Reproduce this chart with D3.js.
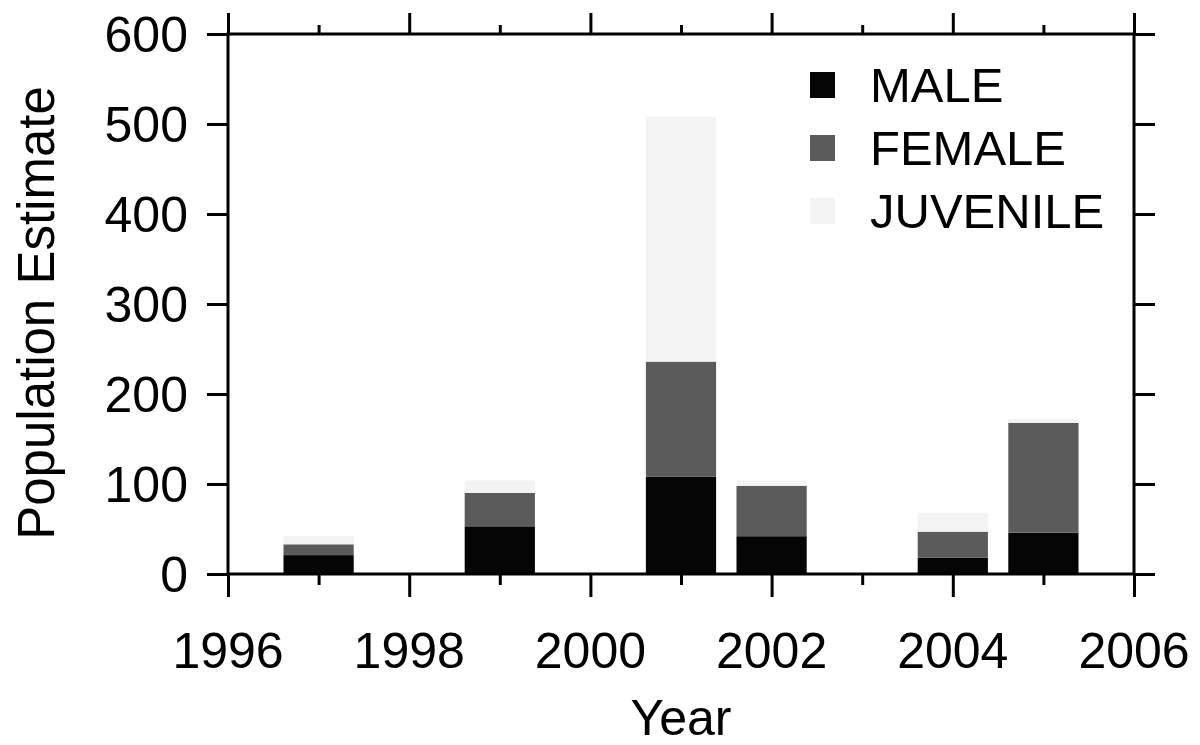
<!doctype html>
<html>
<head>
    <meta charset="utf-8">
    <title>Population Estimate</title>
    <script src="https://d3js.org/d3.v7.min.js"></script>
    <style type="text/css">
        html, body { width: 100%; height: 100%; margin: 0; background: #fff; }
        svg { display: block; font-family: "Liberation Sans", Arial, sans-serif; }
    </style>
</head>
<body>
    <div id="chart"></div>
    <script type="text/javascript">
        // values (stacked: male, female, juvenile)
        var years = [1997, 1999, 2001, 2002, 2004, 2005];
        var male = [21, 53, 108, 42, 18, 46];
        var female = [12, 37, 128, 56, 29, 122];
        var juvenile = [9, 14, 272, 6, 21, 4];
        var seriesNames = ["MALE", "FEMALE", "JUVENILE"];
        var seriesColors = ["#050505", "#5b5b5b", "#f3f3f3"];
        var yTicks = [0, 100, 200, 300, 400, 500, 600];
        var xMajor = [1996, 1998, 2000, 2002, 2004, 2006];
        var xMinor = [1997, 1999, 2001, 2003, 2005];

        var W = 1200, H = 745;
        var mLeft = 228, mRight = 1134, mTop = 34, mBottom = 574;

        var x = d3.scaleLinear().domain([1996, 2006]).range([mLeft, mRight]);
        var y = d3.scaleLinear().domain([0, 600]).range([mBottom, mTop]);
        var barW = 0.775; // in years

        var svg = d3.select("#chart").append("svg")
            .attr("width", W).attr("height", H);

        var rows = years.map(function(yr, i) {
            return { year: yr, MALE: male[i], FEMALE: female[i], JUVENILE: juvenile[i] };
        });
        var stack = d3.stack().keys(seriesNames)(rows);

        svg.append("g").selectAll("g")
            .data(stack)
            .enter().append("g")
            .attr("fill", function(d, i) { return seriesColors[i]; })
            .selectAll("rect")
            .data(function(d) { return d; })
            .enter().append("rect")
            .attr("x", function(d) { return x(d.data.year - barW / 2); })
            .attr("width", function(d) { return x(d.data.year + barW / 2) - x(d.data.year - barW / 2); })
            .attr("y", function(d) { return y(d[1]); })
            .attr("height", function(d) { return y(d[0]) - y(d[1]); });

        // axes: ticks point outward on all four sides
        var sw = 3;
        var axL = d3.axisLeft(y).tickValues(yTicks).tickSize(21).tickFormat("");
        var axR = d3.axisRight(y).tickValues(yTicks).tickSize(21).tickFormat("");
        var axB = d3.axisBottom(x).tickValues(xMajor).tickSize(23).tickFormat("");
        var axBm = d3.axisBottom(x).tickValues(xMinor).tickSize(11).tickFormat("");
        var axT = d3.axisTop(x).tickValues(xMajor).tickSize(21).tickFormat("");
        var axTm = d3.axisTop(x).tickValues(xMinor).tickSize(9).tickFormat("");

        function put(ax, tx, ty) {
            var g = svg.append("g").attr("transform", "translate(" + tx + "," + ty + ")").call(ax);
            g.select(".domain").remove();
            g.selectAll(".tick line").attr("stroke", "#000").attr("stroke-width", sw);
            return g;
        }
        put(axL, mLeft, 0);
        put(axR, mRight, 0);
        put(axB, 0, mBottom);
        put(axBm, 0, mBottom);
        put(axT, 0, mTop);
        put(axTm, 0, mTop);

        svg.append("rect")
            .attr("x", mLeft).attr("y", mTop)
            .attr("width", mRight - mLeft).attr("height", mBottom - mTop)
            .attr("fill", "none").attr("stroke", "#000").attr("stroke-width", sw);

        // tick labels
        svg.append("g").selectAll("text")
            .data(yTicks)
            .enter().append("text")
            .attr("x", 188)
            .attr("y", function(d) { return y(d); })
            .attr("dy", "0.36em")
            .attr("text-anchor", "end")
            .attr("font-size", 50)
            .text(function(d) { return d; });

        svg.append("g").selectAll("text")
            .data(xMajor)
            .enter().append("text")
            .attr("x", function(d) { return x(d); })
            .attr("y", 668)
            .attr("text-anchor", "middle")
            .attr("font-size", 50)
            .text(function(d) { return d; });

        // axis titles
        svg.append("text")
            .attr("transform", "translate(54,313) rotate(-90)")
            .attr("text-anchor", "middle")
            .attr("font-size", 51)
            .text("Population Estimate");

        svg.append("text")
            .attr("x", (mLeft + mRight) / 2)
            .attr("y", 735)
            .attr("text-anchor", "middle")
            .attr("font-size", 50)
            .text("Year");

        // legend
        var legend = svg.append("g").selectAll("g")
            .data(seriesNames)
            .enter().append("g")
            .attr("transform", function(d, i) { return "translate(810," + (72 + i * 63) + ")"; });
        legend.append("rect")
            .attr("width", 25).attr("height", 26)
            .attr("fill", function(d, i) { return seriesColors[i]; });
        legend.append("text")
            .attr("x", 60).attr("y", 30)
            .attr("font-size", 49)
            .text(function(d) { return d; });
    </script>
</body>
</html>
